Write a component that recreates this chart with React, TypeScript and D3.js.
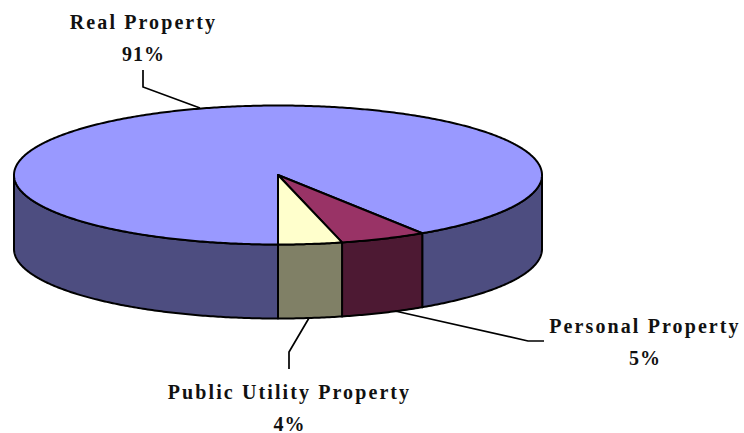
import React from "react";
import * as d3 from "d3";

const categories = ["Real Property", "Personal Property", "Public Utility Property"];
const values = [90.8, 5.3, 3.9];
const topColors = ["#9999ff", "#993366", "#ffffcc"];
const sideColors = ["#4d4d80", "#4d1933", "#808066"];
const labelCenters = [143.5, 645, 289.5];
const labelBaselines = [29, 333, 399];
const leaders = [
  [[143, 70], [143, 87], [200, 108]],
  [[395, 311], [528, 341], [544, 341]],
  [[289, 369], [289, 352], [309, 318]],
];

const W = 744, H = 433;
const cx = 278, cy = 175, rx = 264, ry = 69.5, depth = 74;

const px = d3.scaleLinear().domain([-1, 1]).range([cx - rx, cx + rx]);
const py = d3.scaleLinear().domain([-1, 1]).range([cy + ry, cy - ry]);

const pt = (a: number, dy = 0): [number, number] => [px(Math.sin(a)), py(Math.cos(a)) + dy];
const rim = (a0: number, a1: number, dy = 0) => {
  const n = Math.max(2, Math.ceil(Math.abs(a1 - a0) / 0.01));
  return d3.range(n + 1).map((i) => pt(a0 + ((a1 - a0) * i) / n, dy));
};
const line = d3.line();

const arcs = d3
  .pie<number>()
  .sort(null)
  .startAngle(Math.PI)
  .endAngle(3 * Math.PI)(values);

const frontRanges = [
  [Math.PI / 2, (3 * Math.PI) / 2],
  [(5 * Math.PI) / 2, (7 * Math.PI) / 2],
];

export default function App() {
  const font = { fontFamily: "'Liberation Serif', serif", fontWeight: 700, fontSize: 20, letterSpacing: 2.1, fill: "#111" };
  return (
    <svg width={W} height={H} style={{ position: "absolute", left: 0, top: 0, background: "#fff" }}>
      {arcs.flatMap((d, i) =>
        frontRanges.map(([lo, hi], j) => {
          const a0 = Math.max(d.startAngle, lo), a1 = Math.min(d.endAngle, hi);
          if (a1 <= a0) return null;
          const pts = [...rim(a0, a1), ...rim(a1, a0, depth)];
          return <path key={`s${i}${j}`} d={line(pts) + "Z"} fill={sideColors[i]} stroke="#000" strokeWidth={2} strokeLinejoin="round" />;
        })
      )}
      {arcs.map((d, i) => {
        const pts = [[cx, cy] as [number, number], ...rim(d.startAngle, d.endAngle)];
        return <path key={`t${i}`} d={line(pts) + "Z"} fill={topColors[i]} stroke="#000" strokeWidth={2} strokeLinejoin="round" />;
      })}
      {leaders.map((l, i) => (
        <path key={`l${i}`} d={line(l as [number, number][]) ?? ""} fill="none" stroke="#000" strokeWidth={1.7} />
      ))}
      {categories.map((c, i) => (
        <g key={c} textAnchor="middle" {...font}>
          <text x={labelCenters[i]} y={labelBaselines[i]}>{c}</text>
          <text x={labelCenters[i]} y={labelBaselines[i] + 32} letterSpacing={1}>{Math.round(values[i])}%</text>
        </g>
      ))}
    </svg>
  );
}
